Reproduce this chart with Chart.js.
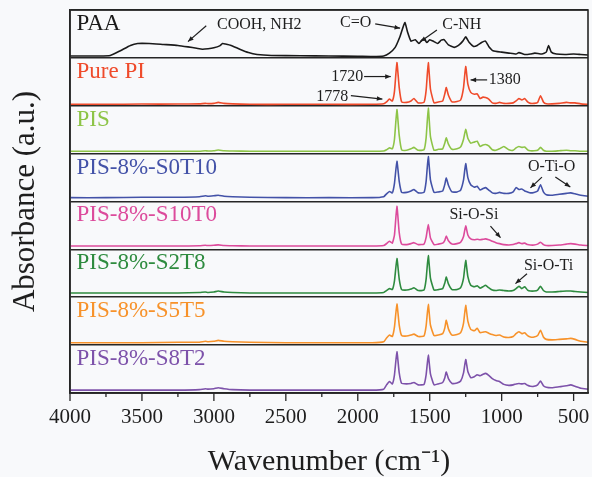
<!DOCTYPE html>
<html>
<head>
<meta charset="utf-8">
<script src="https://cdn.jsdelivr.net/npm/chart.js@4.4.1/dist/chart.umd.min.js"></script>
<style>
    html, body { margin: 0; padding: 0; background: #f8f9fb; }
    #wrap { width: 592px; height: 477px; }
</style>
</head>
<body>
<div id="wrap"><canvas id="ftirChart" width="592" height="477"></canvas></div>
<script>
// panel order, top to bottom
const panelNames = ['PAA', 'Pure PI', 'PIS', 'PIS-8%-S0T10', 'PIS-8%-S10T0', 'PIS-8%-S2T8', 'PIS-8%-S5T5', 'PIS-8%-S8T2'];
const panelColors = ['#1a1a1a', '#ef4b2b', '#8dc447', '#4352a8', '#dc4b9c', '#2e8b3f', '#f7922a', '#7d52aa'];

const xTickLabels = [4000, 3500, 3000, 2500, 2000, 1500, 1000, 500];
const xMinorTicks = [3750, 3250, 2750, 2250, 1750, 1250, 750];

// PAA spectrum (wavenumber, relative absorbance inside its panel)
const paaWn = [4000, 3800, 3720, 3650, 3580, 3530, 3450, 3350, 3250, 3180, 3120, 3080, 3040, 3000, 2960, 2940, 2920, 2880, 2820, 2760, 2700, 2600, 2400, 2200, 2000, 1900, 1820, 1780, 1740, 1710, 1690, 1672, 1655, 1630, 1600, 1575, 1555, 1540, 1520, 1500, 1470, 1445, 1420, 1400, 1370, 1330, 1300, 1270, 1250, 1225, 1195, 1170, 1140, 1113, 1090, 1060, 1000, 950, 900, 880, 840, 800, 770, 720, 690, 674, 655, 620, 560, 500, 450, 400];
const paaAbs = [0.04, 0.04, 0.05, 0.15, 0.26, 0.30, 0.30, 0.28, 0.26, 0.23, 0.20, 0.18, 0.19, 0.21, 0.25, 0.30, 0.29, 0.26, 0.18, 0.11, 0.07, 0.05, 0.045, 0.04, 0.035, 0.03, 0.04, 0.10, 0.22, 0.42, 0.60, 0.74, 0.55, 0.35, 0.38, 0.30, 0.37, 0.40, 0.32, 0.38, 0.34, 0.30, 0.37, 0.38, 0.27, 0.22, 0.26, 0.35, 0.44, 0.32, 0.24, 0.26, 0.32, 0.35, 0.24, 0.15, 0.12, 0.10, 0.08, 0.11, 0.07, 0.08, 0.10, 0.08, 0.12, 0.26, 0.12, 0.08, 0.07, 0.08, 0.07, 0.06];

// shared wavenumbers for the imidized films
const piWn = [4000, 3750, 3500, 3250, 3100, 3060, 3040, 3000, 2970, 2930, 2870, 2750, 2500, 2200, 1900, 1820, 1800, 1780, 1760, 1745, 1728, 1712, 1695, 1660, 1630, 1610, 1580, 1540, 1525, 1510, 1495, 1470, 1440, 1410, 1395, 1385, 1370, 1345, 1310, 1285, 1265, 1250, 1235, 1215, 1190, 1170, 1150, 1130, 1112, 1090, 1065, 1040, 1015, 985, 950, 920, 900, 880, 860, 840, 820, 800, 775, 750, 730, 710, 690, 650, 600, 550, 520, 490, 450, 400];

const purePiAbs = [0.03, 0.03, 0.035, 0.035, 0.04, 0.05, 0.045, 0.05, 0.07, 0.05, 0.04, 0.03, 0.03, 0.03, 0.03, 0.04, 0.08, 0.14, 0.10, 0.30, 0.90, 0.38, 0.08, 0.07, 0.10, 0.15, 0.06, 0.07, 0.32, 0.90, 0.35, 0.06, 0.08, 0.10, 0.25, 0.38, 0.22, 0.08, 0.09, 0.12, 0.38, 0.82, 0.45, 0.28, 0.24, 0.25, 0.15, 0.18, 0.17, 0.14, 0.06, 0.05, 0.07, 0.05, 0.05, 0.06, 0.10, 0.15, 0.12, 0.15, 0.08, 0.05, 0.05, 0.07, 0.21, 0.08, 0.04, 0.04, 0.05, 0.07, 0.06, 0.06, 0.04, 0.03];
const pisAbs = [0.05, 0.05, 0.05, 0.05, 0.05, 0.06, 0.055, 0.06, 0.075, 0.06, 0.055, 0.05, 0.05, 0.05, 0.05, 0.055, 0.08, 0.12, 0.10, 0.30, 0.92, 0.38, 0.08, 0.07, 0.10, 0.13, 0.07, 0.08, 0.33, 0.95, 0.36, 0.07, 0.09, 0.10, 0.22, 0.33, 0.20, 0.09, 0.10, 0.14, 0.30, 0.51, 0.32, 0.22, 0.24, 0.26, 0.15, 0.18, 0.19, 0.16, 0.08, 0.07, 0.10, 0.15, 0.08, 0.07, 0.12, 0.15, 0.13, 0.14, 0.08, 0.06, 0.06, 0.07, 0.13, 0.07, 0.05, 0.05, 0.06, 0.07, 0.06, 0.06, 0.05, 0.05];
const s0t10Abs = [0.08, 0.08, 0.09, 0.09, 0.10, 0.12, 0.11, 0.12, 0.13, 0.11, 0.10, 0.09, 0.08, 0.08, 0.08, 0.10, 0.16, 0.21, 0.18, 0.38, 0.84, 0.42, 0.19, 0.19, 0.22, 0.25, 0.18, 0.19, 0.42, 0.94, 0.45, 0.19, 0.20, 0.22, 0.36, 0.49, 0.34, 0.20, 0.20, 0.24, 0.45, 0.79, 0.50, 0.35, 0.30, 0.32, 0.24, 0.27, 0.29, 0.24, 0.18, 0.17, 0.19, 0.17, 0.17, 0.20, 0.29, 0.25, 0.26, 0.22, 0.20, 0.18, 0.19, 0.22, 0.35, 0.20, 0.14, 0.13, 0.15, 0.17, 0.18, 0.16, 0.13, 0.11];
const s10t0Abs = [0.07, 0.07, 0.07, 0.07, 0.075, 0.085, 0.08, 0.085, 0.095, 0.08, 0.075, 0.07, 0.07, 0.07, 0.07, 0.08, 0.12, 0.17, 0.13, 0.30, 0.90, 0.35, 0.11, 0.10, 0.12, 0.14, 0.10, 0.11, 0.25, 0.52, 0.24, 0.10, 0.11, 0.13, 0.19, 0.28, 0.18, 0.11, 0.12, 0.15, 0.27, 0.49, 0.30, 0.22, 0.20, 0.21, 0.20, 0.21, 0.22, 0.20, 0.17, 0.14, 0.12, 0.10, 0.09, 0.10, 0.12, 0.14, 0.12, 0.13, 0.10, 0.09, 0.09, 0.11, 0.15, 0.10, 0.08, 0.08, 0.09, 0.11, 0.12, 0.11, 0.09, 0.08];
const s2t8Abs = [0.09, 0.09, 0.09, 0.09, 0.10, 0.11, 0.10, 0.11, 0.13, 0.11, 0.10, 0.09, 0.09, 0.09, 0.09, 0.10, 0.14, 0.18, 0.16, 0.34, 0.81, 0.38, 0.16, 0.15, 0.17, 0.20, 0.14, 0.15, 0.38, 0.87, 0.40, 0.15, 0.16, 0.18, 0.30, 0.42, 0.28, 0.16, 0.16, 0.20, 0.40, 0.77, 0.43, 0.25, 0.22, 0.24, 0.19, 0.22, 0.25, 0.20, 0.15, 0.14, 0.15, 0.14, 0.13, 0.14, 0.18, 0.23, 0.18, 0.22, 0.15, 0.13, 0.13, 0.15, 0.23, 0.14, 0.11, 0.11, 0.12, 0.13, 0.13, 0.12, 0.11, 0.10];
const s5t5Abs = [0.05, 0.05, 0.05, 0.06, 0.06, 0.08, 0.07, 0.08, 0.10, 0.08, 0.07, 0.06, 0.05, 0.05, 0.05, 0.07, 0.15, 0.21, 0.18, 0.38, 0.86, 0.42, 0.20, 0.19, 0.21, 0.23, 0.18, 0.19, 0.40, 0.85, 0.42, 0.20, 0.21, 0.24, 0.36, 0.52, 0.34, 0.21, 0.22, 0.26, 0.46, 0.83, 0.50, 0.33, 0.30, 0.35, 0.26, 0.27, 0.28, 0.25, 0.22, 0.20, 0.21, 0.17, 0.16, 0.18, 0.24, 0.28, 0.24, 0.26, 0.20, 0.17, 0.17, 0.20, 0.31, 0.17, 0.12, 0.11, 0.12, 0.13, 0.14, 0.12, 0.08, 0.06];
const s8t2Abs = [0.06, 0.06, 0.06, 0.06, 0.07, 0.09, 0.08, 0.09, 0.11, 0.09, 0.07, 0.06, 0.06, 0.06, 0.06, 0.08, 0.17, 0.24, 0.19, 0.38, 0.86, 0.42, 0.20, 0.19, 0.20, 0.22, 0.17, 0.18, 0.38, 0.79, 0.40, 0.17, 0.19, 0.22, 0.32, 0.44, 0.30, 0.20, 0.21, 0.25, 0.42, 0.70, 0.45, 0.32, 0.34, 0.38, 0.36, 0.39, 0.41, 0.37, 0.30, 0.26, 0.24, 0.18, 0.16, 0.17, 0.19, 0.20, 0.19, 0.20, 0.16, 0.14, 0.14, 0.17, 0.25, 0.15, 0.12, 0.11, 0.13, 0.15, 0.17, 0.14, 0.10, 0.08];

// text notes: panel index, wavenumber, height in panel
const notes = [
    { text: 'COOH, NH2', panel: 0, x: 2685, y: 0.69, arrow: [3053, 0.67, 3180, 0.34] },
    { text: 'C=O', panel: 0, x: 2015, y: 0.73, arrow: [1879, 0.71, 1706, 0.62] },
    { text: 'C-NH', panel: 0, x: 1277, y: 0.69, arrow: [1450, 0.58, 1563, 0.34] },
    { text: '1720', panel: 1, x: 2073, y: 0.61, arrow: [1956, 0.61, 1771, 0.61] },
    { text: '1778', panel: 1, x: 2177, y: 0.19, arrow: [2048, 0.21, 1829, 0.14] },
    { text: '1380', panel: 1, x: 979, y: 0.54, arrow: [1101, 0.54, 1216, 0.54] },
    { text: 'O-Ti-O', panel: 3, x: 653, y: 0.735, arrow: [720, 0.51, 800, 0.285] },
    { text: '', panel: 3, x: 653, y: 0.735, arrow: [627, 0.51, 523, 0.305] },
    { text: 'Si-O-Si', panel: 4, x: 1193, y: 0.73, arrow: [1078, 0.485, 1008, 0.244] },
    { text: 'Si-O-Ti', panel: 5, x: 674, y: 0.667, arrow: [824, 0.49, 904, 0.285] }
];

const spectra = [
    [paaWn, paaAbs],
    [piWn, purePiAbs],
    [piWn, pisAbs],
    [piWn, s0t10Abs],
    [piWn, s10t0Abs],
    [piWn, s2t8Abs],
    [piWn, s5t5Abs],
    [piWn, s8t2Abs]
];

const serif = "'Liberation Serif', 'Times New Roman', serif";
const panelCount = panelNames.length;

function panelBase(i) {
    return panelCount - 1 - i;
}

const datasets = spectra.map(([wn, abs], i) => ({
    label: panelNames[i],
    data: wn.map((w, k) => ({ x: w, y: panelBase(i) + abs[k] })),
    borderColor: panelColors[i],
    borderWidth: 1.6,
    pointRadius: 0,
    tension: 0.15,
    fill: false
}));

const backgroundPlugin = {
    id: 'background',
    beforeDraw(chart) {
        const ctx = chart.ctx;
        ctx.save();
        ctx.fillStyle = '#f8f9fb';
        ctx.fillRect(0, 0, chart.width, chart.height);
        ctx.restore();
    }
};

const decorPlugin = {
    id: 'decor',
    afterDatasetsDraw(chart) {
        const ctx = chart.ctx;
        const xs = chart.scales.x;
        const ys = chart.scales.y;
        const area = chart.chartArea;

        ctx.save();
        // frame
        ctx.strokeStyle = '#262626';
        ctx.lineWidth = 1.6;
        ctx.strokeRect(area.left, area.top, area.right - area.left, area.bottom - area.top);

        // x ticks, outward
        ctx.lineWidth = 1.3;
        xTickLabels.forEach(v => {
            const px = xs.getPixelForValue(v);
            ctx.beginPath();
            ctx.moveTo(px, area.bottom);
            ctx.lineTo(px, area.bottom + 8);
            ctx.stroke();
        });
        xMinorTicks.forEach(v => {
            const px = xs.getPixelForValue(v);
            ctx.beginPath();
            ctx.moveTo(px, area.bottom);
            ctx.lineTo(px, area.bottom + 4);
            ctx.stroke();
        });

        // panel names
        ctx.font = '23px ' + serif;
        ctx.textBaseline = 'middle';
        ctx.textAlign = 'left';
        panelNames.forEach((name, i) => {
            ctx.fillStyle = panelColors[i];
            ctx.fillText(name, xs.getPixelForValue(3955), ys.getPixelForValue(panelBase(i) + 0.71));
        });

        // band notes with arrows
        ctx.font = '16px ' + serif;
        ctx.textAlign = 'center';
        ctx.fillStyle = '#1e1e1e';
        ctx.strokeStyle = '#1e1e1e';
        ctx.lineWidth = 1.2;
        notes.forEach(n => {
            const base = panelBase(n.panel);
            if (n.text) {
                ctx.fillText(n.text, xs.getPixelForValue(n.x), ys.getPixelForValue(base + n.y));
            }
            const x1 = xs.getPixelForValue(n.arrow[0]);
            const y1 = ys.getPixelForValue(base + n.arrow[1]);
            const x2 = xs.getPixelForValue(n.arrow[2]);
            const y2 = ys.getPixelForValue(base + n.arrow[3]);
            ctx.beginPath();
            ctx.moveTo(x1, y1);
            ctx.lineTo(x2, y2);
            ctx.stroke();
            const ang = Math.atan2(y2 - y1, x2 - x1);
            const len = 6;
            ctx.beginPath();
            ctx.moveTo(x2, y2);
            ctx.lineTo(x2 - len * Math.cos(ang - 0.4), y2 - len * Math.sin(ang - 0.4));
            ctx.lineTo(x2 - len * Math.cos(ang + 0.4), y2 - len * Math.sin(ang + 0.4));
            ctx.closePath();
            ctx.fill();
        });
        ctx.restore();
    }
};

new Chart(document.getElementById('ftirChart'), {
    type: 'line',
    data: { datasets: datasets },
    options: {
        responsive: false,
        animation: false,
        layout: { padding: { top: 10, right: 4, left: 0, bottom: 0 } },
        plugins: {
            legend: { display: false },
            tooltip: { enabled: false }
        },
        scales: {
            x: {
                type: 'linear',
                reverse: true,
                min: 400,
                max: 4000,
                afterBuildTicks: scale => {
                    scale.ticks = xTickLabels.map(v => ({ value: v }));
                },
                afterFit: scale => {
                    scale.height = 84;
                    scale.paddingLeft = 0;
                    scale.paddingRight = 0;
                },
                grid: { display: false, drawTicks: false },
                border: { display: true, color: '#262626', width: 1.6 },
                ticks: {
                    padding: 12,
                    color: '#1e1e1e',
                    font: { family: serif, size: 21 },
                    maxRotation: 0,
                    callback: v => String(v)
                },
                title: {
                    display: true,
                    text: 'Wavenumber (cm\u207B\u00B9)',
                    color: '#1e1e1e',
                    font: { family: serif, size: 30, lineHeight: 1 },
                    padding: { top: 0, bottom: 0 }
                }
            },
            y: {
                min: 0,
                max: panelCount,
                afterBuildTicks: scale => {
                    scale.ticks = panelNames.map((_, i) => ({ value: i })).concat([{ value: panelCount }]);
                },
                afterFit: scale => {
                    scale.width = 70;
                    scale.paddingTop = 0;
                    scale.paddingBottom = 0;
                },
                grid: { color: '#262626', lineWidth: 1.6, drawTicks: false },
                border: { display: true, color: '#262626', width: 1.6 },
                ticks: { display: false },
                title: {
                    display: true,
                    text: 'Absorbance (a.u.)',
                    color: '#1e1e1e',
                    font: { family: serif, size: 31, lineHeight: 1 },
                    padding: { top: 10, bottom: 0 }
                }
            }
        }
    },
    plugins: [backgroundPlugin, decorPlugin]
});
</script>
</body>
</html>
